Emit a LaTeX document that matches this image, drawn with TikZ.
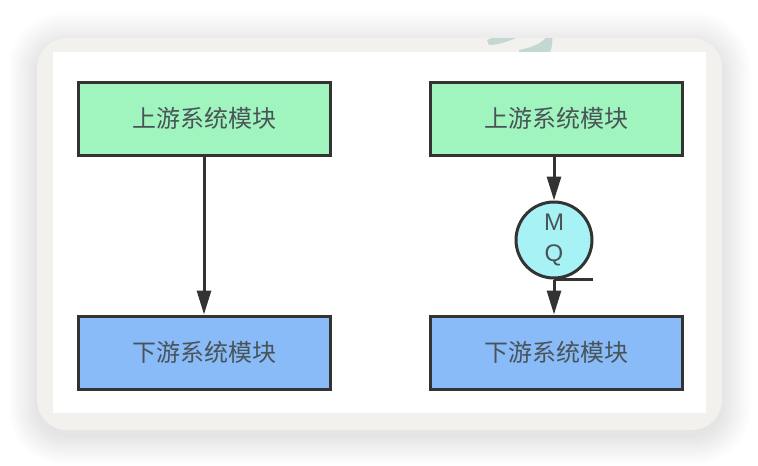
\documentclass[tikz,border=0pt]{standalone}
\usepackage{fontspec}
\setsansfont{Liberation Sans}
\newfontfamily\cjk{Noto Sans CJK SC}
\usepackage{xcolor}
\usetikzlibrary{arrows.meta,calc,positioning,shapes.geometric}
\definecolor{upgreen}{HTML}{A0F5BF}
\definecolor{downblue}{HTML}{88BBF8}
\definecolor{mqcyan}{HTML}{A6F2F4}
\definecolor{edgegray}{HTML}{333333}
\definecolor{txtgray}{HTML}{4a5458}
\definecolor{cardgray}{HTML}{F2F1EE}
\definecolor{markteal}{HTML}{C3D8D2}
\tikzset{modbox/.style={draw=edgegray,line width=3pt,minimum width=252pt,minimum height=73pt,
    inner sep=0pt,text=txtgray,font=\cjk\fontsize{24}{26}\selectfont},
  upbox/.style={modbox,fill=upgreen},
  downbox/.style={modbox,fill=downblue},
  mqnode/.style={circle,draw=edgegray,line width=3pt,fill=mqcyan,minimum size=76pt,inner sep=0pt,
    align=center,text=txtgray,font=\sffamily\fontsize{24}{31}\selectfont},
  arr/.style={-{Triangle[length=24pt,width=14pt]},line width=3pt,draw=edgegray}}

\begin{document}
\begin{tikzpicture}[x=1pt,y=-1pt]
\useasboundingbox[fill=white] (0,0) rectangle (758,466);
\foreach \i in {1,...,26}
  \fill[black,opacity=0.005,rounded corners=30+\i] (37-\i*1.1,46-\i*1.3) rectangle (722+\i*1.1,436+\i*1.1);
\fill[cardgray,rounded corners=30pt] (37,38) rectangle (722,430);
\begin{scope}
\clip (37,38) rectangle (722,52);
\fill[markteal] (487,40) .. controls (500,34) and (512,35) .. (520,36) .. controls (508,42) and (497,45) .. (489,45) -- cycle;
\fill[markteal] (519,50) .. controls (535,47) and (545,42) .. (552,30) .. controls (553,40) and (552,48) .. (550,52) -- (519,52) -- cycle;
\end{scope}
\fill[white] (53,52) rectangle (706,413);

\node[upbox] (up1) at (204,118.5) {上游系统模块};
\node[downbox] (down1) at (204,352.5) {下游系统模块};
\node[upbox] (up2) at (556.5,118.5) {上游系统模块};
\node[downbox] (down2) at (556.5,352.5) {下游系统模块};
\node[mqnode] (mq) at (554,240) {M\\Q};

\draw[arr] (up1) -- (down1);
\draw[arr] (mq.north |- up2.south) -- (mq.north);
\draw[arr] (mq.south) -- (mq.south |- down2.north);
\draw[line width=3pt,edgegray] (mq.south) -- ++(39,0);
\end{tikzpicture}
\end{document}
